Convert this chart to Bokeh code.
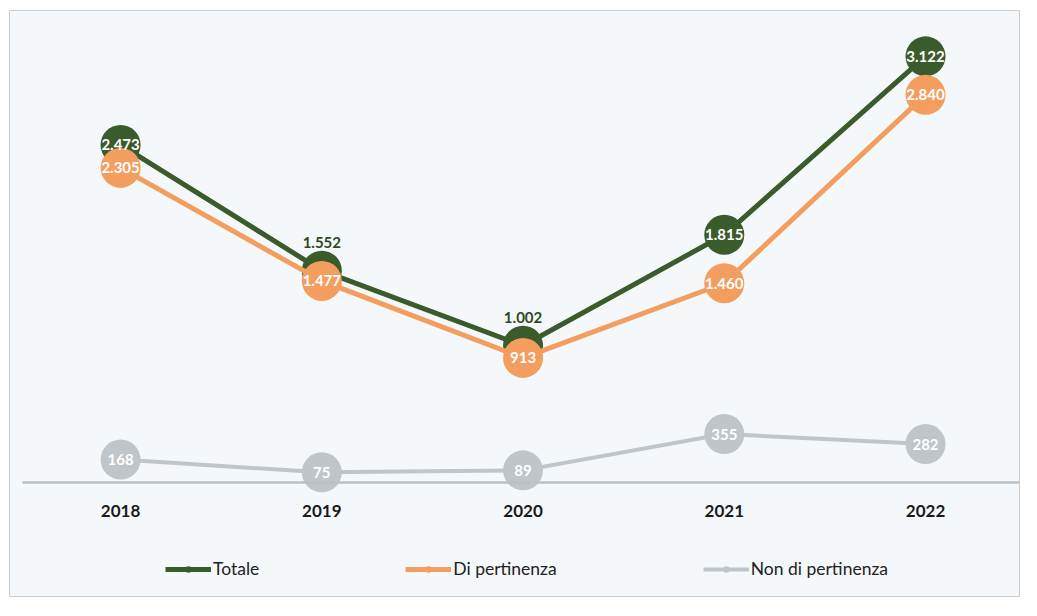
from bokeh.plotting import figure
from bokeh.models import ColumnDataSource, FixedTicker, Legend, LegendItem
from bokeh.embed import file_html
from bokeh.resources import INLINE
from bokeh.core.properties import value

# ---- data ----
years = [2018, 2019, 2020, 2021, 2022]
totale = [2473, 1552, 1002, 1815, 3122]
di_pertinenza = [2305, 1477, 913, 1460, 2840]
non_di_pertinenza = [168, 75, 89, 355, 282]
series_names = ["Totale", "Di pertinenza", "Non di pertinenza"]

# ---- style ----
GREEN = "#3a5b2c"
GREEN_TXT = "#2e4a22"
ORANGE = "#f39d5e"
GRAY = "#bfc5c9"
FONT = "Lato"
totale_label_above = [False, True, True, False, False]


def fmt(v):
    return f"{v:,}".replace(",", ".")


p = figure(width=1021, height=600, output_backend="svg", toolbar_location=None,
           x_range=(2017.448, 2022.467), y_range=(-835, 3458),
           min_border_left=9, min_border_right=2, min_border_top=10, min_border_bottom=4)
p.background_fill_color = "#f5f8fa"
p.border_fill_color = "white"
p.outline_line_color = "#c9cdd0"
p.outline_line_width = 1
p.xgrid.visible = False
p.ygrid.visible = False
p.yaxis.visible = False

ax = p.xaxis[0]
ax.fixed_location = 0
ax.ticker = FixedTicker(ticks=years)
ax.bounds = (2017.513, 2022.497)
ax.axis_line_color = "#b9c1c7"
ax.axis_line_width = 2.5
ax.major_tick_line_color = None
ax.minor_tick_line_color = None
ax.major_label_standoff = 16
ax.major_label_text_font = FONT
ax.major_label_text_font_style = "bold"
ax.major_label_text_font_size = "17px"
ax.major_label_text_color = "#1a1a1a"

items = []
specs = [(totale, GREEN, 5), (di_pertinenza, ORANGE, 5), (non_di_pertinenza, GRAY, 4)]
text_sources = []
for name, (vals, col, lw) in zip(series_names, specs):
    src = ColumnDataSource(dict(x=years, y=vals, lab=[fmt(v) for v in vals]))
    ln = p.line("x", "y", source=src, line_color=col, line_width=lw)
    sc = p.scatter("x", "y", source=src, size=40, fill_color=col, line_color=None)
    items.append(LegendItem(label=name, renderers=[ln, sc]))
    text_sources.append((src, vals))

# labels
for i, (src, vals) in enumerate(text_sources):
    if i == 0:
        inside = dict(x=[], y=[], lab=[])
        above = dict(x=[], y=[], lab=[])
        for x, v, a in zip(years, vals, totale_label_above):
            d = above if a else inside
            d["x"].append(x); d["y"].append(v); d["lab"].append(fmt(v))
        p.text("x", "y", text="lab", source=ColumnDataSource(inside), text_color="white",
               text_font=value(FONT), text_font_style="bold", text_font_size="15px",
               text_align="center", text_baseline="middle")
        p.text("x", "y", text="lab", source=ColumnDataSource(above), text_color=GREEN_TXT,
               text_font=value(FONT), text_font_style="bold", text_font_size="15px",
               text_align="center", text_baseline="middle", y_offset=-28)
    else:
        p.text("x", "y", text="lab", source=src, text_color="white",
               text_font=value(FONT), text_font_style="bold", text_font_size="15px",
               text_align="center", text_baseline="middle")

legend = Legend(items=items, orientation="horizontal", location=(156, 17),
                spacing=146, glyph_width=46, glyph_height=16, label_standoff=2,
                padding=0, margin=0, background_fill_alpha=0, border_line_color=None,
                label_text_font=FONT, label_text_font_size="17.5px", label_text_color="#222222")
p.add_layout(legend)

open("out.html", "w").write(file_html(p, INLINE))
